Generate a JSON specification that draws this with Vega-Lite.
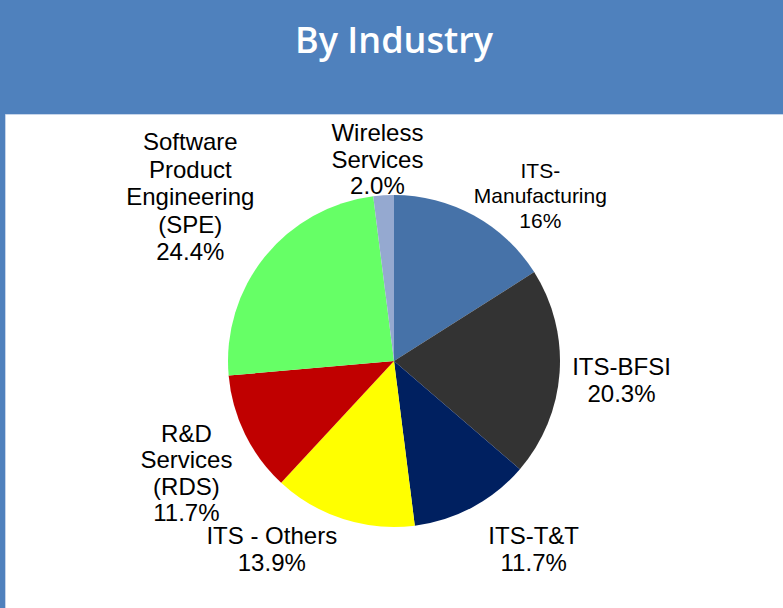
{
  "$schema": "https://vega.github.io/schema/vega-lite/v6.json",
  "width": 778,
  "height": 494,
  "autosize": {"type": "none"},
  "padding": {"left": 5, "right": 0, "top": 114, "bottom": 0},
  "background": "#4F81BD",
  "view": {"fill": "white", "stroke": "#C6D5EA", "strokeWidth": 1},
  "title": {"text": "By Industry", "color": "white", "font": "Open Sans", "fontWeight": 600, "fontSize": 36, "anchor": "middle", "frame": "group", "baseline": "alphabetic", "offset": 10, "dy": 42},
  "data": {"values": [
    {"cat": "ITS-Manufacturing", "order": 1, "value": 16.0, "label": ["ITS-", "Manufacturing", "16%"]},
    {"cat": "ITS-BFSI", "order": 2, "value": 20.3, "label": ["ITS-BFSI", "20.3%"]},
    {"cat": "ITS-T&T", "order": 3, "value": 11.7, "label": ["ITS-T&T", "11.7%"]},
    {"cat": "ITS - Others", "order": 4, "value": 13.9, "label": ["ITS - Others", "13.9%"]},
    {"cat": "R&D Services (RDS)", "order": 5, "value": 11.7, "label": ["R&D", "Services", "(RDS)", "11.7%"]},
    {"cat": "Software Product Engineering (SPE)", "order": 6, "value": 24.4, "label": ["Software", "Product", "Engineering", "(SPE)", "24.4%"]},
    {"cat": "Wireless Services", "order": 7, "value": 2.0, "label": ["Wireless", "Services", "2.0%"]}
  ]},
  "encoding": {
    "theta": {"field": "value", "type": "quantitative", "stack": true},
    "order": {"field": "order", "type": "quantitative"}
  },
  "layer": [
    {
      "mark": {"type": "arc", "outerRadius": 166},
      "encoding": {
        "color": {"field": "cat", "type": "nominal", "legend": null,
          "scale": {"domain": ["ITS-Manufacturing", "ITS-BFSI", "ITS-T&T", "ITS - Others", "R&D Services (RDS)", "Software Product Engineering (SPE)", "Wireless Services"],
                    "range": ["#4672A8", "#333333", "#002060", "#FFFF00", "#C00000", "#66FF66", "#95A9D0"]}}
      }
    },
    {
      "mark": {"type": "text", "radius": 200, "font": "Liberation Sans", "fontSize": 21, "lineHeight": 25, "color": "black", "align": "center", "baseline": "middle", "dx": 50, "dy": -14},
      "encoding": {"text": {"condition": {"test": "datum.cat === 'ITS-Manufacturing'", "field": "label"}, "value": ""}}
    },
    {
      "mark": {"type": "text", "radius": 200, "font": "Liberation Sans", "fontSize": 24, "lineHeight": 27, "color": "black", "align": "center", "baseline": "middle", "dx": 28, "dy": -7},
      "encoding": {"text": {"condition": {"test": "datum.cat === 'ITS-BFSI'", "field": "label"}, "value": ""}}
    },
    {
      "mark": {"type": "text", "radius": 200, "font": "Liberation Sans", "fontSize": 24, "lineHeight": 27, "color": "black", "align": "center", "baseline": "middle", "dx": 45, "dy": 0},
      "encoding": {"text": {"condition": {"test": "datum.cat === 'ITS-T&T'", "field": "label"}, "value": ""}}
    },
    {
      "mark": {"type": "text", "radius": 200, "font": "Liberation Sans", "fontSize": 24, "lineHeight": 27, "color": "black", "align": "center", "baseline": "middle", "dx": -61, "dy": -14},
      "encoding": {"text": {"condition": {"test": "datum.cat === 'ITS - Others'", "field": "label"}, "value": ""}}
    },
    {
      "mark": {"type": "text", "radius": 200, "font": "Liberation Sans", "fontSize": 24, "lineHeight": 26.5, "color": "black", "align": "center", "baseline": "middle", "dx": -28, "dy": -14},
      "encoding": {"text": {"condition": {"test": "datum.cat === 'R&D Services (RDS)'", "field": "label"}, "value": ""}}
    },
    {
      "mark": {"type": "text", "radius": 200, "font": "Liberation Sans", "fontSize": 24, "lineHeight": 27.5, "color": "black", "align": "center", "baseline": "middle", "dx": -48, "dy": -92},
      "encoding": {"text": {"condition": {"test": "datum.cat === 'Software Product Engineering (SPE)'", "field": "label"}, "value": ""}}
    },
    {
      "mark": {"type": "text", "radius": 200, "font": "Liberation Sans", "fontSize": 24, "lineHeight": 26.5, "color": "black", "align": "center", "baseline": "middle", "dx": -4, "dy": -27},
      "encoding": {"text": {"condition": {"test": "datum.cat === 'Wireless Services'", "field": "label"}, "value": ""}}
    }
  ]
}
